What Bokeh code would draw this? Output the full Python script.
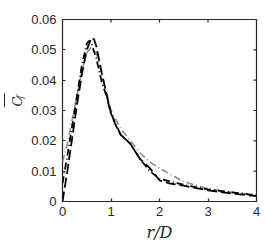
import math
from bokeh.plotting import figure
from bokeh.layouts import row
from bokeh.models import Range1d, FixedTicker, Label
from bokeh.embed import file_html
from bokeh.resources import INLINE

r_dash = [0.0, 0.1, 0.2, 0.3, 0.4, 0.5, 0.6, 0.65, 0.7, 0.8, 0.9, 1.0, 1.1, 1.2, 1.4, 1.6, 1.8, 2.0, 2.2, 2.5, 3.0, 3.5, 4.0]
cf_dash = [0.0, 0.010, 0.021, 0.032, 0.042, 0.050, 0.054, 0.0535, 0.051, 0.043, 0.036, 0.029, 0.025, 0.022, 0.019, 0.014, 0.011, 0.007, 0.006, 0.0052, 0.0037, 0.0026, 0.0018]

r_dd = [0.0, 0.1, 0.2, 0.3, 0.4, 0.5, 0.55, 0.6, 0.7, 0.8, 0.9, 1.0, 1.2, 1.4, 1.6, 1.8, 2.0, 2.5, 3.0, 3.5, 4.0]
cf_dd = [0.006, 0.015, 0.025, 0.035, 0.045, 0.052, 0.053, 0.052, 0.047, 0.040, 0.035, 0.029, 0.022, 0.019, 0.014, 0.010, 0.0075, 0.0055, 0.004, 0.003, 0.002]

r_gray = [0.0, 0.1, 0.2, 0.3, 0.4, 0.5, 0.6, 0.7, 0.8, 0.9, 1.0, 1.2, 1.4, 1.6, 1.8, 2.0, 2.2, 2.5, 3.0, 3.5, 4.0]
cf_gray = [0.013, 0.019, 0.027, 0.035, 0.043, 0.049, 0.051, 0.049, 0.043, 0.036, 0.030, 0.024, 0.020, 0.016, 0.013, 0.011, 0.0092, 0.0065, 0.0042, 0.003, 0.0022]

x_ticks = [0, 1, 2, 3, 4]
y_ticks = [0, 0.01, 0.02, 0.03, 0.04, 0.05, 0.06]
y_tick_labels = {0: "0", 0.01: "0.01", 0.02: "0.02", 0.03: "0.03", 0.04: "0.04", 0.05: "0.05", 0.06: "0.06"}

INK = "#262626"
H = 247
STRIP = 27

p = figure(frame_width=194, frame_height=182, output_backend="svg", toolbar_location=None,
           x_range=Range1d(0, 4), y_range=Range1d(0, 0.06),
           min_border_left=62 - STRIP, min_border_right=6, min_border_top=19, min_border_bottom=46)
p.background_fill_color = "white"
p.border_fill_color = "white"
p.grid.visible = False
p.outline_line_color = INK
p.outline_line_width = 1.2

for ax in [p.xaxis[0], p.yaxis[0]]:
    ax.axis_line_color = None
    ax.major_tick_in = 3
    ax.major_tick_out = 0
    ax.minor_tick_line_color = None
    ax.major_tick_line_color = INK
    ax.major_tick_line_width = 1.2
    ax.major_label_text_font = "Liberation Sans"
    ax.major_label_text_font_size = "13px"
    ax.major_label_text_color = INK

p.xaxis[0].ticker = FixedTicker(ticks=x_ticks)
p.yaxis[0].ticker = FixedTicker(ticks=y_ticks)
p.yaxis[0].major_label_overrides = y_tick_labels
p.xaxis[0].major_label_standoff = 5
p.yaxis[0].major_label_standoff = 6

p.xaxis[0].axis_label = "r/D"
p.xaxis[0].axis_label_text_font = "DejaVu Serif"
p.xaxis[0].axis_label_text_font_style = "italic"
p.xaxis[0].axis_label_text_font_size = "16px"
p.xaxis[0].axis_label_text_color = INK
p.xaxis[0].axis_label_standoff = 4

# inward ticks on top and right edges of the box
p.ray(x=x_ticks, y=[0.06] * len(x_ticks), length=3, length_units="screen",
      angle=-math.pi / 2, line_color=INK, line_width=1.2)
p.ray(x=[4] * len(y_ticks), y=y_ticks, length=3, length_units="screen",
      angle=math.pi, line_color=INK, line_width=1.2)

p.line(r_gray, cf_gray, line_color="#8c8c8c", line_width=1.6, line_dash="7 3 1 3")
p.line(r_dd, cf_dd, line_color="black", line_width=1.8, line_dash="7 3 1 3")
p.line(r_dash, cf_dash, line_color="black", line_width=1.8, line_dash="10 4")

# narrow strip on the left holding the y-axis label (overlined C with subscript f)
lab = figure(width=STRIP, height=H, output_backend="svg", toolbar_location=None,
             x_range=Range1d(0, STRIP), y_range=Range1d(0, H),
             x_axis_type=None, y_axis_type=None, min_border=0)
lab.outline_line_color = None
lab.grid.visible = False
lab.background_fill_color = "white"
lab.border_fill_color = "white"
lab.add_layout(Label(x=16.5, y=H - 118, text="C", angle=math.pi / 2,
                     text_font="DejaVu Serif", text_font_style="italic",
                     text_font_size="13px", text_color=INK, text_baseline="alphabetic"))
lab.add_layout(Label(x=19, y=H - 107.5, text="f", angle=math.pi / 2,
                     text_font="DejaVu Serif", text_font_style="italic",
                     text_font_size="9px", text_color=INK, text_baseline="alphabetic"))
lab.segment(x0=[4], y0=[H - 100], x1=[4], y1=[H - 119], line_color=INK, line_width=1)

open("out.html", "w").write(file_html(row(lab, p), INLINE))
